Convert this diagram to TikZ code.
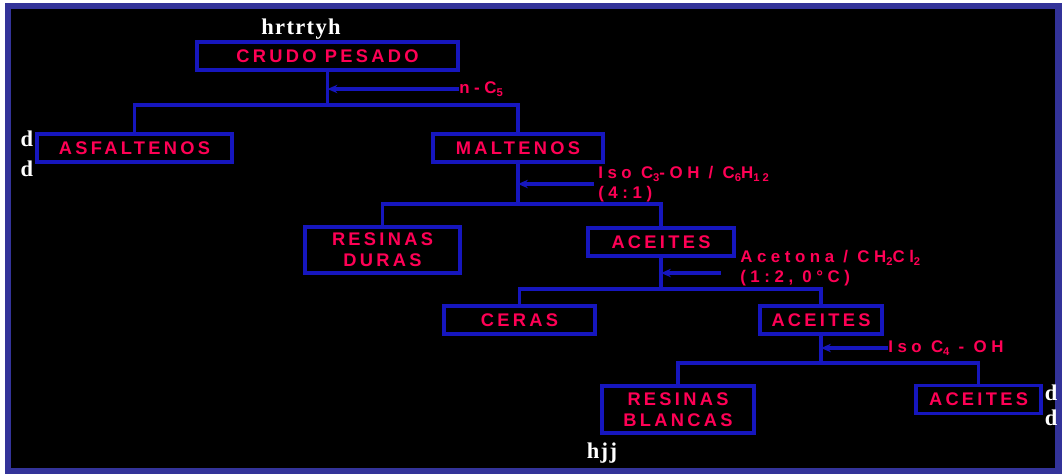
\documentclass[tikz,border=0pt]{standalone}
\usepackage{fontspec}
\usepackage{tikz}
\usetikzlibrary{arrows.meta,positioning}
\definecolor{framblue}{RGB}{51,51,153}
\definecolor{linkblue}{RGB}{22,22,190}
\definecolor{fracred}{RGB}{255,0,85}
\newfontfamily\fracfont[LetterSpace=18]{Liberation Sans}
\newfontfamily\solvfont[LetterSpace=27]{Liberation Sans}
\newfontfamily\notefont[LetterSpace=6]{Liberation Serif}
\newcommand{\pxu}{0.025cm}
\newcommand{\lsub}[1]{\raisebox{-0.35ex}{\fontsize{8}{8}\selectfont #1}}
\tikzset{
  fracbox/.style={draw=linkblue, line width=2.6pt, text=fracred, inner sep=0pt,
    minimum height=28*\pxu, align=center,
    font=\fracfont\bfseries\fontsize{13}{15}\selectfont},
  solvent/.style={text=fracred, inner sep=0pt, align=left, anchor=west,
    font=\solvfont\bfseries\fontsize{12}{14}\selectfont},
  link/.style={draw=linkblue, line width=2.6pt},
  feed/.style={link, -{Stealth[length=7pt,width=6pt]}},
  scrib/.style={text=white, inner sep=0pt,
    font=\notefont\bfseries\fontsize{16}{16}\selectfont},
}

\begin{document}
\begin{tikzpicture}[x=\pxu, y=-\pxu]
  \useasboundingbox (0,0) rectangle (1063,474);
  \fill[white] (0,0) rectangle (1063,474);
  \fill[framblue] (5,3) rectangle (1062,474);
  \fill[black] (11,9) rectangle (1055,468);

  % Fractions
  \node[fracbox, minimum width=261*\pxu] (crudo) at (327.5,56) {CRUDO PESADO};
  \node[fracbox, minimum width=195*\pxu] (asfal) at (134.5,148) {ASFALTENOS};
  \node[fracbox, minimum width=170*\pxu] (malte) at (518,148) {MALTENOS};
  \node[fracbox, minimum width=155*\pxu, minimum height=46*\pxu] (resdur)
    at (382.5,250) {RESINAS\\DURAS};
  \node[fracbox, minimum width=146*\pxu] (aceiA) at (661,242) {ACEITES};
  \node[fracbox, minimum width=151*\pxu] (ceras) at (519.5,320) {CERAS};
  \node[fracbox, minimum width=122*\pxu] (aceiB) at (821,320) {ACEITES};
  \node[fracbox, minimum width=152*\pxu, minimum height=47*\pxu] (resbla)
    at (678,409.5) {RESINAS\\BLANCAS};
  \node[fracbox, minimum width=125*\pxu] (aceiC) at (978.5,399.5) {ACEITES};

  % Splitting bars
  \coordinate (bar1) at (0,105);
  \coordinate (bar2) at (0,204);
  \coordinate (bar3) at (0,289);
  \coordinate (bar4) at (0,363);
  \draw[link] (crudo.south) -- (crudo.south |- bar1);
  \draw[link] (asfal.north) |- (malte.north |- bar1) -- (malte.north);
  \draw[link] (malte.south) -- (malte.south |- bar2);
  \draw[link] (resdur.north) |- (aceiA.north |- bar2) -- (aceiA.north);
  \draw[link] (aceiA.south) -- (aceiA.south |- bar3);
  \draw[link] (ceras.north) |- (aceiB.north |- bar3) -- (aceiB.north);
  \draw[link] (aceiB.south) -- (aceiB.south |- bar4);
  \draw[link] (resbla.north) |- (aceiC.north |- bar4) -- (aceiC.north);

  % Solvents
  \node[solvent] (nc) at (459,89) {n-C\lsub{5}};
  \draw[feed] (nc.west) -- (crudo.south |- nc.west);
  \node[solvent] (isoA) at (598,184) {Iso C\lsub{3}-OH / C\lsub{6}H\lsub{12}\\(4:1)};
  \draw[feed, shorten <=4*\pxu] (isoA.west) -- (malte.south |- isoA.west);
  \node[solvent] (aceto) at (740,268) {Acetona / CH\lsub{2}Cl\lsub{2}\\(1:2, 0°C)};
  \coordinate (acetoin) at (721,273);
  \draw[feed] (acetoin) -- (aceiA.south |- acetoin);
  \node[solvent] (isoB) at (888,348) {Iso C\lsub{4} - OH};
  \draw[feed] (isoB.west) -- (aceiB.south |- isoB.west);

  % Stray notes
  \node[scrib] (tagtop) at (301,29) {hrtrtyh};
  \node[scrib] (dA) at (27,139) {d};
  \node[scrib] (dB) at (27,169) {d};
  \node[scrib] (dC) at (1051,393) {d};
  \node[scrib] (dD) at (1051,418) {d};
  \node[scrib] (tagbot) at (602,453) {hjj};
\end{tikzpicture}
\end{document}
